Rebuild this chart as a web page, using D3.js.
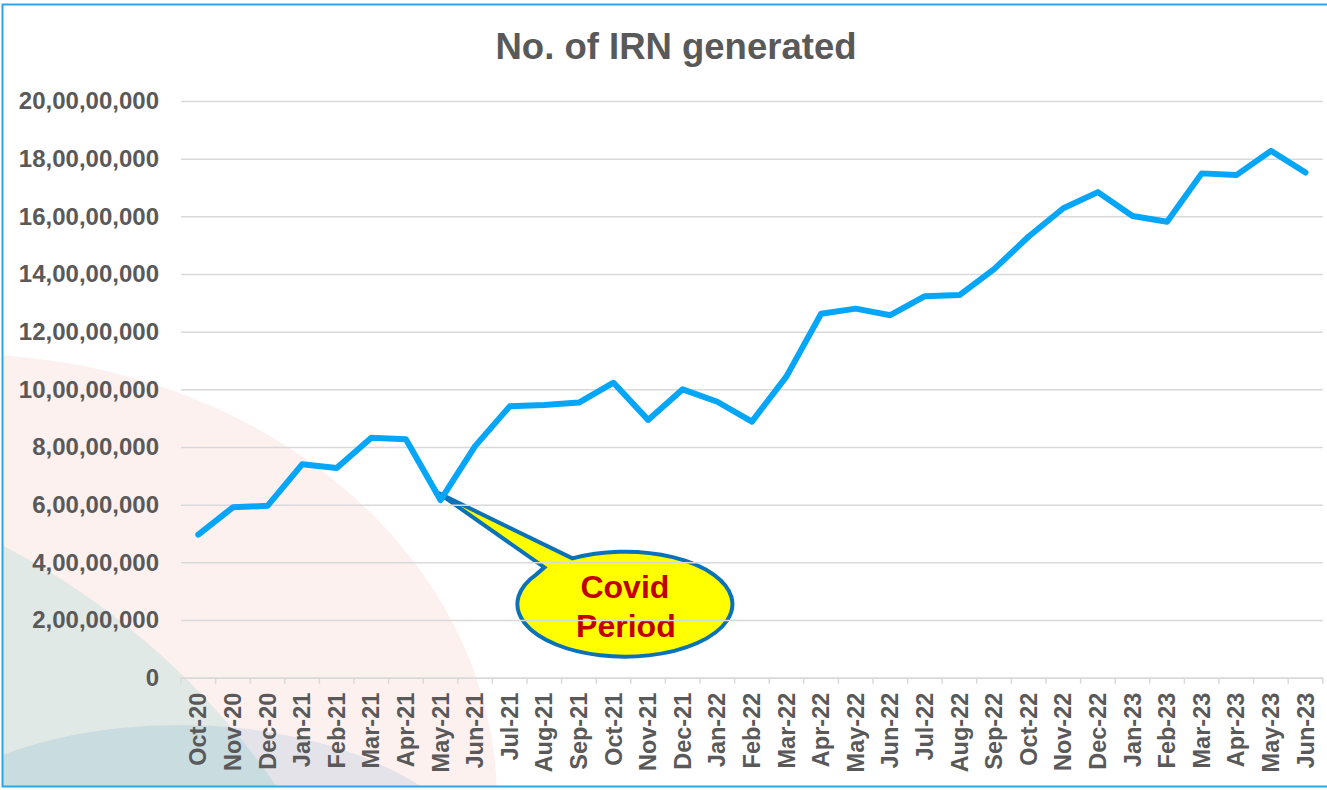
<!DOCTYPE html>
<html>
<head>
<meta charset="utf-8">
<script src="https://cdn.jsdelivr.net/npm/d3@7"></script>
<style>
  html, body { margin: 0; padding: 0; background: #ffffff; }
  svg { display: block; }
</style>
</head>
<body>
<svg id="chart" width="1327" height="790"></svg>
<script>
// ---------------- DATA ----------------
const title = "No. of IRN generated";
const categories = [
  "Oct-20","Nov-20","Dec-20",
  "Jan-21","Feb-21","Mar-21","Apr-21","May-21","Jun-21","Jul-21","Aug-21","Sep-21","Oct-21","Nov-21","Dec-21",
  "Jan-22","Feb-22","Mar-22","Apr-22","May-22","Jun-22","Jul-22","Aug-22","Sep-22","Oct-22","Nov-22","Dec-22",
  "Jan-23","Feb-23","Mar-23","Apr-23","May-23","Jun-23"
];
const irnGenerated = [
  49600000, 59100000, 59600000,
  74000000, 72700000, 83200000, 82700000, 61600000, 80300000, 94100000, 94600000, 95400000, 102300000, 89400000, 100000000,
  95700000, 88800000, 104500000, 126200000, 128000000, 125700000, 132300000, 132700000, 141700000, 153000000, 162800000, 168400000,
  160100000, 158100000, 174900000, 174300000, 182700000, 175200000
];
const yTickValues = [0, 20000000, 40000000, 60000000, 80000000, 100000000, 120000000, 140000000, 160000000, 180000000, 200000000];
const yTickLabels = ["0","2,00,00,000","4,00,00,000","6,00,00,000","8,00,00,000","10,00,00,000","12,00,00,000","14,00,00,000","16,00,00,000","18,00,00,000","20,00,00,000"];
const calloutLines = ["Covid", "Period"];
const calloutAt = "May-21";

// ---------------- LAYOUT ----------------
const W = 1327, H = 790;
const plot = { left: 181, right: 1322.8, top: 101, bottom: 677.7 };
const FONT = "'Liberation Sans', Arial, Helvetica, sans-serif";
const TEXT = "#595959";
const GRID = "#d9d9d9";
const LINE = "#05a6f7";

const svg = d3.select("#chart");
const defs = svg.append("defs");

defs.append("clipPath").attr("id", "frame")
  .append("rect").attr("x", 2).attr("y", 4).attr("width", W).attr("height", 783);
defs.append("clipPath").attr("id", "tealClip")
  .append("circle").attr("cx", -342).attr("cy", 1214).attr("r", 752);

// ---------------- BACKGROUND SHAPES ----------------
const bg = svg.append("g").attr("clip-path", "url(#frame)");
bg.append("ellipse").attr("cx", -40).attr("cy", 800).attr("rx", 537).attr("ry", 446)
  .attr("fill", "#fdf1f0");
bg.append("circle").attr("cx", -342).attr("cy", 1214).attr("r", 752)
  .attr("fill", "#e1e9e7");
bg.append("ellipse").attr("cx", 180).attr("cy", 900).attr("rx", 317).attr("ry", 175)
  .attr("fill", "#e4e3ea");
bg.append("ellipse").attr("cx", 180).attr("cy", 900).attr("rx", 317).attr("ry", 175)
  .attr("fill", "#c9dde1").attr("clip-path", "url(#tealClip)");

// frame border
svg.append("rect").attr("x", 2.5).attr("y", 4.5).attr("width", W + 10).attr("height", 782)
  .attr("fill", "none").attr("stroke", "#2aa6ee").attr("stroke-width", 2);

// ---------------- SCALES ----------------
const x = d3.scaleBand().domain(categories).range([plot.left, plot.right]).padding(0);
const cx = c => x(c) + x.bandwidth() / 2;
const y = d3.scaleLinear().domain([0, 200000000]).range([plot.bottom, plot.top]);

// ---------------- TITLE ----------------
svg.append("text")
  .attr("x", 676).attr("y", 59)
  .attr("text-anchor", "middle")
  .attr("font-family", FONT).attr("font-weight", "bold").attr("font-size", 36.5)
  .attr("fill", TEXT)
  .text(title);

// ---------------- CALLOUT (below gridlines) ----------------
const tipX = cx(calloutAt) - 2, tipY = y(irnGenerated[categories.indexOf(calloutAt)]) - 7;
const ecx = cx("Sep-21") + 46, ecy = y(25500000);
const erx = 107.5, ery = 52.5;
function onEllipse(dx, sign) {
  const t = 1 - (dx / erx) ** 2;
  return [ecx + dx, ecy + sign * ery * Math.sqrt(Math.max(0, t))];
}
const pA = onEllipse(-52.5, -1);
const pB = onEllipse(-88.5, -1);
const notch = [pB[0] + 8, pB[1] - 7];
const calloutPath = `M${tipX},${tipY} L${pA[0]},${pA[1]} A${erx},${ery} 0 1 1 ${pB[0]},${pB[1]} L${notch[0]},${notch[1]} Z`;
svg.append("path").attr("d", calloutPath)
  .attr("fill", "#ffff00").attr("stroke", "#0a72b8").attr("stroke-width", 4)
  .attr("stroke-linejoin", "miter");
svg.append("text")
  .attr("x", ecx).attr("y", ecy - 6)
  .attr("text-anchor", "middle")
  .attr("font-family", FONT).attr("font-weight", "bold").attr("font-size", 32)
  .attr("fill", "#c00000")
  .text(calloutLines[0]);
svg.append("text")
  .attr("x", ecx + 1).attr("y", ecy + 33)
  .attr("text-anchor", "middle")
  .attr("font-family", FONT).attr("font-weight", "bold").attr("font-size", 32)
  .attr("fill", "#c00000")
  .text(calloutLines[1]);

// ---------------- GRIDLINES & Y AXIS ----------------
const yAxis = d3.axisLeft(y).tickValues(yTickValues)
  .tickSize(-(plot.right - plot.left))
  .tickFormat((d, i) => yTickLabels[i]);
const gy = svg.append("g").attr("transform", `translate(${plot.left},0)`).call(yAxis);
gy.select(".domain").remove();
gy.selectAll(".tick line").attr("stroke", GRID).attr("stroke-width", 1.5);
gy.selectAll(".tick text")
  .attr("x", -22)
  .attr("font-family", FONT).attr("font-weight", "bold").attr("font-size", 24)
  .attr("fill", TEXT);

// ---------------- X AXIS ----------------
const xAxis = d3.axisBottom(x).tickSize(0).tickSizeOuter(0);
const gx = svg.append("g").attr("transform", `translate(0,${plot.bottom})`).call(xAxis);
gx.select(".domain").attr("stroke", GRID).attr("stroke-width", 1.5);
gx.selectAll(".tick text")
  .attr("font-family", FONT).attr("font-weight", "bold").attr("font-size", 23.5)
  .attr("fill", TEXT)
  .attr("text-anchor", "end")
  .attr("dominant-baseline", "central")
  .attr("transform", "rotate(-90)")
  .attr("x", -15).attr("y", 0).attr("dy", null);
const bounds = categories.map(c => x(c)).concat([plot.right]);
gx.selectAll(".bound").data(bounds).enter().append("line")
  .attr("class", "bound")
  .attr("x1", d => d).attr("x2", d => d)
  .attr("y1", 0).attr("y2", 6)
  .attr("stroke", GRID).attr("stroke-width", 1.5);

// ---------------- LINE ----------------
const line = d3.line().x((d, i) => cx(categories[i])).y(d => y(d));
svg.append("path").datum(irnGenerated)
  .attr("d", line)
  .attr("fill", "none").attr("stroke", LINE).attr("stroke-width", 6)
  .attr("stroke-linejoin", "round").attr("stroke-linecap", "round");
</script>
</body>
</html>
